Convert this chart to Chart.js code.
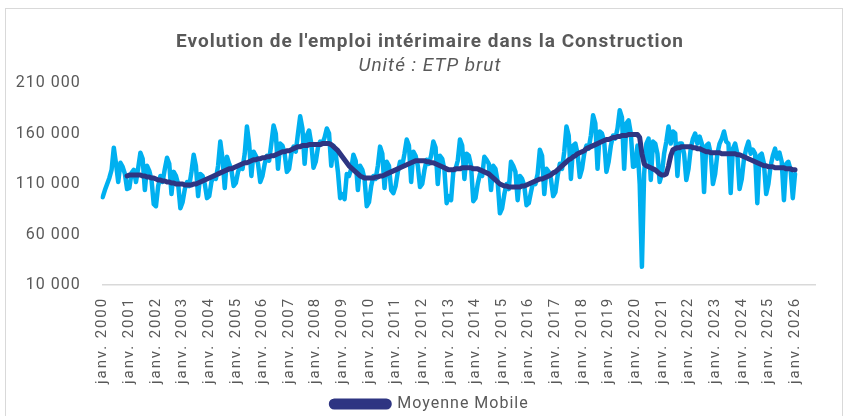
<!DOCTYPE html>
<html lang="fr">
<head>
<meta charset="utf-8">
<title>Emploi intérimaire - Construction</title>
<script src="https://cdn.jsdelivr.net/npm/chart.js@4.4.1/dist/chart.umd.min.js"></script>
<style>
  html, body { margin: 0; padding: 0; background: #fff; }
  #cadre {
    position: absolute; left: 5px; top: 8px; width: 838px; height: 420px;
    border: 1px solid #d9d9d9; box-sizing: border-box;
  }
  #graphique { position: absolute; left: 0; top: 0; }
</style>
</head>
<body>
<div id="cadre"></div>
<canvas id="graphique" width="845" height="416"></canvas>
<script>
// --- Données mensuelles (ETP brut) ---
const MOIS = ['janv.', 'févr.', 'mars', 'avr.', 'mai', 'juin', 'juil.', 'août', 'sept.', 'oct.', 'nov.', 'déc.'];
const ANNEE_DEBUT = 2000;
const ANNEE_FIN = 2026;
const DERNIER_MOIS_AXE = 9; // l'axe va jusqu'en octobre 2026

const TICKS_Y = [10000, 60000, 110000, 160000, 210000];

// Emploi intérimaire brut, de janv. 2000 à janv. 2026 (une ligne par année)
const emploiBrut = [
  97000, 104000, 110000, 116000, 124000, 146000, 130000, 112000, 131000, 127000, 120000, 105000,
  106000, 121000, 124000, 112000, 126000, 141000, 135000, 104000, 128000, 123000, 114000, 90000,
  88000, 108000, 118000, 112000, 125000, 136000, 130000, 100000, 122000, 118000, 110000, 86000,
  92000, 105000, 112000, 108000, 122000, 139000, 128000, 98000, 120000, 118000, 110000, 96000,
  98000, 112000, 118000, 115000, 128000, 152000, 135000, 106000, 137000, 130000, 124000, 108000,
  111000, 122000, 128000, 125000, 140000, 167000, 150000, 118000, 142000, 138000, 130000, 112000,
  118000, 130000, 138000, 133000, 150000, 168000, 160000, 125000, 150000, 148000, 140000, 122000,
  125000, 140000, 147000, 142000, 160000, 177000, 165000, 130000, 158000, 163000, 150000, 126000,
  132000, 146000, 152000, 150000, 156000, 165000, 160000, 128000, 148000, 140000, 122000, 96000,
  100000, 95000, 120000, 118000, 125000, 139000, 133000, 104000, 128000, 124000, 115000, 88000,
  92000, 108000, 118000, 115000, 128000, 147000, 140000, 106000, 132000, 128000, 104000, 101000,
  108000, 122000, 132000, 128000, 140000, 154000, 148000, 112000, 142000, 138000, 128000, 107000,
  110000, 124000, 134000, 130000, 138000, 152000, 146000, 110000, 138000, 135000, 124000, 91000,
  98000, 94000, 122000, 125000, 133000, 154000, 148000, 115000, 140000, 138000, 128000, 93000,
  96000, 110000, 120000, 118000, 137000, 134000, 130000, 104000, 128000, 125000, 112000, 81000,
  86000, 100000, 110000, 105000, 132000, 128000, 122000, 94000, 118000, 115000, 108000, 89000,
  91000, 102000, 112000, 110000, 120000, 144000, 138000, 100000, 125000, 122000, 115000, 98000,
  102000, 118000, 130000, 125000, 142000, 167000, 158000, 115000, 148000, 150000, 140000, 117000,
  125000, 140000, 148000, 145000, 158000, 178000, 170000, 125000, 162000, 160000, 152000, 122000,
  132000, 148000, 158000, 155000, 165000, 183000, 176000, 125000, 170000, 173000, 160000, 127000,
  128000, 148000, 110000, 28000, 120000, 150000, 155000, 114000, 152000, 150000, 140000, 112000,
  120000, 140000, 152000, 167000, 150000, 162000, 160000, 118000, 150000, 150000, 140000, 114000,
  125000, 145000, 155000, 160000, 150000, 157000, 150000, 102000, 148000, 150000, 140000, 110000,
  120000, 140000, 150000, 155000, 162000, 152000, 150000, 101000, 145000, 150000, 140000, 105000,
  115000, 135000, 145000, 152000, 140000, 144000, 140000, 91000, 138000, 140000, 130000, 100000,
  110000, 128000, 138000, 145000, 135000, 141000, 132000, 94000, 130000, 132000, 124000, 96000,
  120000
];

// Moyenne mobile sur 12 mois (disponible à partir de déc. 2000)
const moyenneMobile = [
  null, null, null, null, null, null, null, null, null, null, null, 118000,
  119000, 119000, 119000, 119000, 119000, 119000, 118000, 118000, 117000, 117000, 116000, 116000,
  115000, 114000, 114000, 113000, 113000, 112000, 112000, 111000, 111000, 110000, 110000, 110000,
  110000, 109000, 109000, 109000, 109000, 110000, 110000, 111000, 112000, 113000, 114000, 115000,
  116000, 117000, 118000, 119000, 120000, 121000, 122000, 123000, 124000, 125000, 125000, 126000,
  127000, 128000, 129000, 130000, 131000, 131000, 132000, 133000, 134000, 134000, 135000, 135000,
  136000, 136000, 137000, 137000, 138000, 138000, 139000, 140000, 141000, 142000, 142000, 143000,
  143000, 144000, 145000, 146000, 147000, 147000, 148000, 148000, 148000, 149000, 149000, 149000,
  149000, 149000, 149000, 150000, 150000, 150000, 150000, 149000, 147000, 145000, 143000, 140000,
  137000, 134000, 131000, 128000, 126000, 124000, 122000, 120000, 118000, 117000, 116000, 116000,
  116000, 116000, 116000, 117000, 117000, 118000, 118000, 119000, 120000, 121000, 122000, 123000,
  124000, 125000, 126000, 127000, 128000, 129000, 130000, 131000, 132000, 133000, 133000, 133000,
  133000, 133000, 132000, 132000, 131000, 131000, 130000, 129000, 128000, 127000, 126000, 125000,
  124000, 124000, 124000, 125000, 125000, 125000, 126000, 126000, 126000, 126000, 126000, 125000,
  125000, 125000, 124000, 123000, 122000, 121000, 120000, 118000, 116000, 114000, 112000, 110000,
  109000, 108000, 108000, 107000, 107000, 107000, 107000, 107000, 107000, 108000, 108000, 109000,
  110000, 111000, 112000, 113000, 114000, 115000, 115000, 116000, 117000, 118000, 119000, 121000,
  122000, 124000, 126000, 128000, 130000, 132000, 134000, 135000, 137000, 138000, 140000, 141000,
  142000, 143000, 145000, 146000, 147000, 148000, 149000, 150000, 151000, 152000, 153000, 154000,
  154000, 155000, 156000, 156000, 157000, 157000, 158000, 158000, 158000, 159000, 159000, 159000,
  159000, 159000, 156000, 140000, 130000, 128000, 127000, 126000, 125000, 124000, 122000, 120000,
  119000, 119000, 120000, 128000, 138000, 144000, 145000, 146000, 146000, 147000, 147000, 147000,
  147000, 147000, 146000, 146000, 145000, 145000, 144000, 143000, 142000, 142000, 141000, 141000,
  141000, 141000, 141000, 140000, 140000, 140000, 140000, 140000, 140000, 140000, 139000, 139000,
  138000, 137000, 136000, 135000, 134000, 133000, 132000, 131000, 130000, 129000, 128000, 128000,
  127000, 127000, 127000, 126000, 126000, 126000, 126000, 126000, 125000, 125000, 125000, 124000,
  124000
];

// Libellés mensuels de l'axe (seuls les mois de janvier sont affichés)
const libellesMois = [];
for (let a = ANNEE_DEBUT; a <= ANNEE_FIN; a++) {
  for (let m = 0; m < 12; m++) {
    if (a === ANNEE_FIN && m > DERNIER_MOIS_AXE) break;
    libellesMois.push(MOIS[m] + ' ' + a);
  }
}

const GRIS_TEXTE = '#595959';
const BLEU_CLAIR = '#00b0f0';
const BLEU_FONCE = '#2e3582';

// Texte un peu espacé partout, davantage sur l'axe des dates ;
// les libellés de l'axe Y débordent à gauche sans être coupés
const reglagesTexte = {
  id: 'reglagesTexte',
  beforeUpdate(chart) { chart.ctx.letterSpacing = '1px'; },
  beforeDraw(chart) {
    chart.ctx.letterSpacing = '1px';
    const sx = chart.scales.x;
    const sy = chart.scales.y;
    if (sy && !sy._libre) {
      sy._computeLabelArea = () => undefined;
      sy._libre = true;
    }
    if (!sx || sx._espace) return;
    const dessin = sx.drawLabels;
    sx.drawLabels = function (area) {
      const c = this.ctx;
      c.save();
      c.letterSpacing = '1.9px';
      dessin.call(this, area);
      c.restore();
    };
    sx._espace = true;
  }
};

const formatMilliers = (v) => String(v).replace(/\B(?=(\d{3})+(?!\d))/g, ' ');

new Chart(document.getElementById('graphique'), {
  type: 'line',
  data: {
    labels: libellesMois,
    datasets: [
      {
        label: 'Moyenne Mobile',
        data: moyenneMobile,
        borderColor: BLEU_FONCE,
        backgroundColor: BLEU_FONCE,
        borderWidth: 5,
        borderJoinStyle: 'round',
        borderCapStyle: 'round',
        pointRadius: 0,
        tension: 0,
        spanGaps: false
      },
      {
        label: 'Emploi intérimaire',
        data: emploiBrut,
        borderColor: BLEU_CLAIR,
        backgroundColor: BLEU_CLAIR,
        borderWidth: 4.5,
        borderJoinStyle: 'round',
        borderCapStyle: 'round',
        pointRadius: 0,
        tension: 0
      }
    ]
  },
  options: {
    responsive: false,
    devicePixelRatio: 1,
    animation: false,
    layout: { padding: { left: 35, right: 20, top: 0, bottom: -6 } },
    plugins: {
      title: {
        display: true,
        text: "Evolution de l'emploi intérimaire dans la Construction",
        color: GRIS_TEXTE,
        font: { family: 'Roboto', size: 19, weight: 'bold' },
        padding: { top: 30.6, bottom: 0 }
      },
      subtitle: {
        display: true,
        text: 'Unité : ETP brut',
        color: GRIS_TEXTE,
        font: { family: 'Roboto', size: 19, style: 'italic' },
        padding: { top: 1.2, bottom: 5.6 }
      },
      legend: {
        position: 'bottom',
        labels: {
          filter: (item) => item.text === 'Moyenne Mobile',
          color: GRIS_TEXTE,
          font: { family: 'Roboto', size: 16 },
          boxWidth: 58,
          boxHeight: 6,
          useBorderRadius: true,
          borderRadius: 3,
          padding: 10
        }
      },
      tooltip: { enabled: false }
    },
    scales: {
      x: {
        grid: { display: false, drawTicks: false },
        border: { display: true, color: '#d9d9d9', width: 1.5 },
        afterFit: (s) => { s.height = 101; },
        ticks: {
          autoSkip: false,
          minRotation: 90,
          maxRotation: 90,
          padding: 12,
          color: GRIS_TEXTE,
          font: { family: 'Roboto', size: 15 },
          callback: function (val, idx) {
            return idx % 12 === 0 ? this.getLabelForValue(val) : '';
          }
        }
      },
      y: {
        min: 10000,
        max: 210000,
        grid: { display: false, drawTicks: false },
        border: { display: false },
        afterFit: (s) => { s.width = 67.7; },
        afterBuildTicks: (s) => { s.ticks = TICKS_Y.map(v => ({ value: v })); },
        ticks: {
          padding: 22,
          color: GRIS_TEXTE,
          font: { family: 'Roboto', size: 16 },
          callback: (v) => formatMilliers(v)
        }
      }
    }
  },
  plugins: [reglagesTexte]
});
</script>
</body>
</html>
